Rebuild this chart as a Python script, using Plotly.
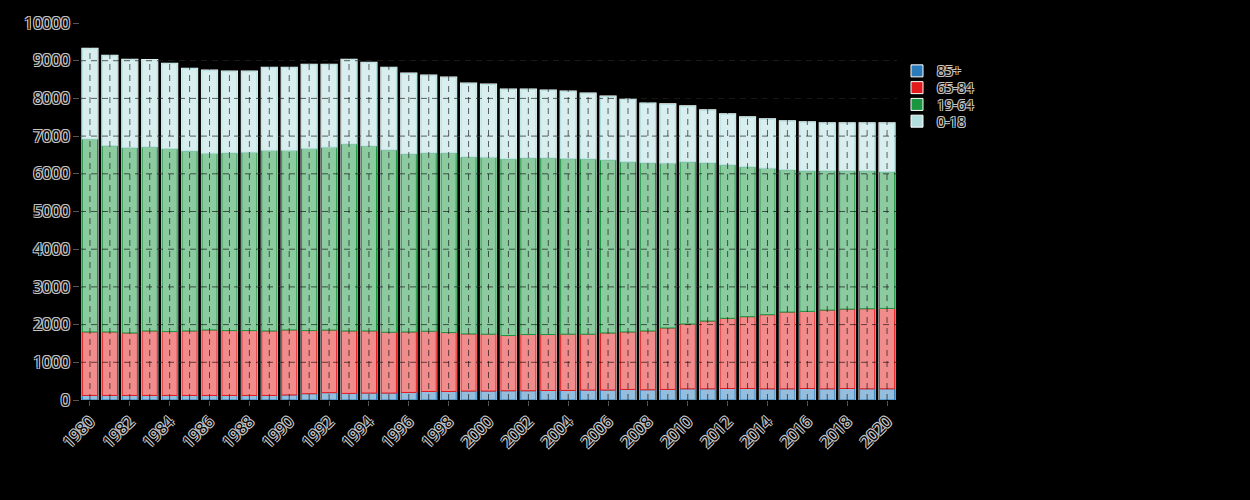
import numpy as np
import plotly.graph_objects as go

# population by age group, 1980-2020
years = list(range(1980, 2021))

age_85_plus = [121, 121, 121, 121, 121, 121, 121, 121, 121, 121,
               134, 167, 195, 175, 184, 184, 200, 226, 226, 237,
               237, 245, 245, 253, 253, 263, 263, 279, 271, 279,
               297, 297, 305, 305, 297, 297, 305, 297, 305, 297, 297]

age_65_84 = [1684, 1684, 1658, 1711, 1695, 1711, 1737, 1721, 1721, 1711,
             1724, 1675, 1660, 1657, 1648, 1613, 1605, 1598, 1563, 1516,
             1508, 1465, 1492, 1484, 1492, 1482, 1516, 1526, 1561, 1632,
             1719, 1798, 1861, 1906, 1966, 2035, 2045, 2087, 2106, 2124, 2132]

age_19_64 = [5116, 4940, 4913, 4878, 4850, 4773, 4684, 4711, 4728, 4789,
             4763, 4832, 4850, 4957, 4905, 4835, 4721, 4729, 4764, 4694,
             4693, 4685, 4684, 4684, 4658, 4650, 4589, 4511, 4457, 4369,
             4300, 4194, 4071, 3973, 3885, 3773, 3729, 3695, 3668, 3658, 3624]

age_0_18 = [2395, 2387, 2334, 2306, 2255, 2184, 2195, 2158, 2141, 2195,
            2195, 2221, 2190, 2237, 2210, 2184, 2132, 2052, 2000, 1948,
            1930, 1842, 1816, 1790, 1781, 1737, 1685, 1658, 1579, 1562,
            1473, 1395, 1342, 1316, 1299, 1290, 1289, 1263, 1263, 1263, 1289]

y_ticks = list(range(0, 10001, 1000))

groups = [
    ("85+", age_85_plus, "#2b7bba", "#95bddd"),
    ("65-84", age_65_84, "#e31a1c", "#f18c8d"),
    ("19-64", age_19_64, "#1a9641", "#8ccaa0"),
    ("0-18", age_0_18, "#b3dede", "#d9eeee"),
]

# hollow-looking text: black glyphs with a thin light outline
outline = ", ".join(f"{dx}px {dy}px 0px #c4c4c4"
                    for dx, dy in [(1, 1), (-1, -1), (1, -1), (-1, 1)])
font = dict(family="Open Sans, verdana, arial, sans-serif", size=16,
            color="black", shadow=outline)
legend_font = dict(font, size=14)

BAR_W = 0.76
stack = np.array([g[1] for g in groups])
bases = np.vstack([np.zeros(len(years)), np.cumsum(stack, axis=0)[:-1]])
totals = stack.sum(axis=0)

data = []
# white backing behind each stacked column
data.append(go.Bar(x=years, y=totals, width=BAR_W, marker=dict(color="white",
            line=dict(color="white", width=2)), showlegend=False, hoverinfo="skip"))

for i, (name, vals, col, fill) in enumerate(groups):
    data.append(go.Bar(
        x=years, y=vals, base=bases[i], width=BAR_W, name=name,
        marker=dict(color=fill, line=dict(color=col, width=1)),
        showlegend=False,
    ))

# one legend per group so the entries can sit close together
legends = {}
for i, (name, vals, col, fill) in enumerate(groups):
    key = "legend" if i == 0 else f"legend{i + 1}"
    data.append(go.Bar(x=[None], y=[None], name=name, legend=key,
                marker=dict(color=col, line=dict(color="white", width=1))))
    legends[key] = dict(x=1.0, y=0.872 - 0.0445 * i, yanchor="middle",
                        font=legend_font, bgcolor="rgba(0,0,0,0)")

# dashed grid drawn over the bars
grid = dict(color="rgba(0,0,0,0.6)", width=1, dash="6px,5px")
shapes = []
for yr in years:
    shapes.append(dict(type="line", xref="x", yref="paper", x0=yr, x1=yr,
                       y0=0, y1=1, line=grid, layer="above"))
for t in y_ticks[1:]:
    shapes.append(dict(type="line", xref="paper", yref="y", x0=0, x1=1,
                       y0=t, y1=t, line=grid, layer="above"))

layout = go.Layout(
    width=1250, height=500,
    barmode="overlay",
    font=font,
    paper_bgcolor="black",
    plot_bgcolor="black",
    margin=dict(l=80, r=353, t=20, b=100),
    xaxis=dict(
        tickmode="array", tickvals=years[::2], ticktext=[str(y) for y in years[::2]],
        tickangle=-45, tickfont=font, range=[years[0] - 0.5, years[-1] + 0.5],
        showgrid=False, zeroline=False, ticks="outside", ticklen=5, tickcolor="#555",
    ),
    yaxis=dict(
        range=[0, 10000], tickvals=y_ticks, tickformat="d", tickfont=font,
        gridcolor="#333", griddash="6px,5px", zeroline=False,
        ticks="outside", ticklen=6, tickcolor="#555",
    ),
    shapes=shapes,
    **legends,
)

fig = go.Figure(data=data, layout=layout)
fig.write_html("out.html", config={"displayModeBar": False},
               post_script="document.body.style.margin='0';"
                           "document.body.style.background='black';")
